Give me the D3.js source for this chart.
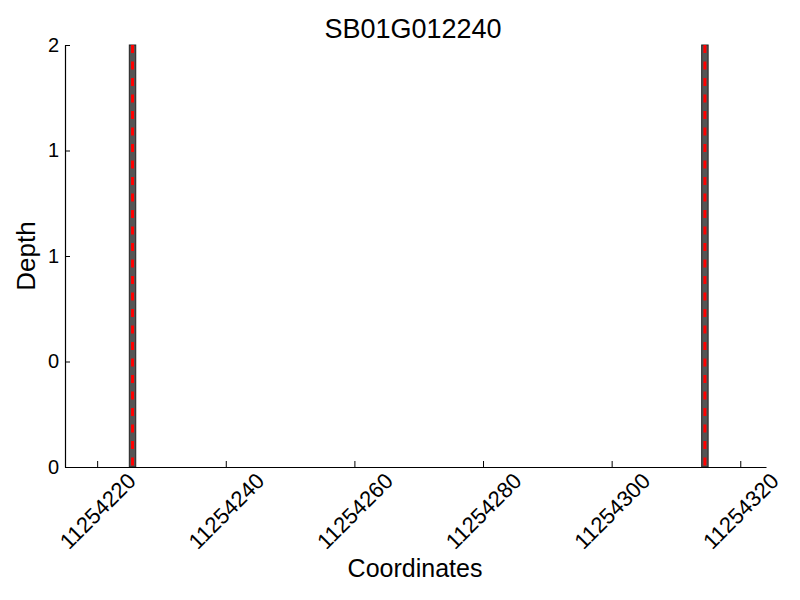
<!DOCTYPE html>
<html><head><meta charset="utf-8">
<script src="https://cdn.jsdelivr.net/npm/d3@7"></script>
<style>body{margin:0;background:#fff;} text{font-family:"Liberation Sans",Arial,sans-serif;fill:#000;}</style>
</head><body><svg id="c" width="800" height="600"></svg>
<script>
const title = "SB01G012240";
const xLabel = "Coordinates";
const yLabel = "Depth";
const barStarts = [11254225, 11254314];
const barEnds = [11254226, 11254315];
const depths = [2, 2];
const xTicks = [11254220, 11254240, 11254260, 11254280, 11254300, 11254320];
const yTicks = [0, 0.5, 1, 1.5, 2];
const yTickLabels = ["0", "0", "1", "1", "2"];
const xDomain = [11254215, 11254324];
const yDomain = [0, 2];

const svg = d3.select("#c");
const x = d3.scaleLinear().domain(xDomain).range([65, 766]);
const y = d3.scaleLinear().domain(yDomain).range([467, 45]);

const bars = barStarts.map((s, i) => ({s, e: barEnds[i], d: depths[i]}));
svg.selectAll("rect.bar").data(bars).enter().append("rect")
  .attr("x", d => x(d.s)).attr("width", d => x(d.e) - x(d.s))
  .attr("y", d => y(d.d)).attr("height", d => y(0) - y(d.d))
  .attr("fill", "#555555").attr("stroke", "#222").attr("stroke-width", 1);
svg.selectAll("line.mid").data(bars).enter().append("line")
  .attr("x1", d => x((d.s + d.e) / 2)).attr("x2", d => x((d.s + d.e) / 2))
  .attr("y1", d => y(d.d)).attr("y2", y(0))
  .attr("stroke", "#ff0000").attr("stroke-width", 3).attr("stroke-dasharray", "8,8.5");

const xa = svg.append("g").attr("transform", "translate(0,467)")
  .call(d3.axisBottom(x).tickValues(xTicks).tickSizeInner(-6).tickSizeOuter(0).tickFormat(d3.format("d")));
xa.select(".domain").attr("stroke", "#000").attr("stroke-width", 1.2);
xa.selectAll("text").attr("font-size", 22).attr("text-anchor", "middle")
  .attr("transform", "translate(0,44) rotate(-45)").attr("dy", "0.35em").attr("y", 0).attr("x", 0);

const ya = svg.append("g").attr("transform", "translate(65,0)")
  .call(d3.axisLeft(y).tickValues(yTicks).tickSizeInner(-5).tickSizeOuter(0).tickFormat((d, i) => yTickLabels[i]));
ya.select(".domain").attr("stroke", "#000").attr("stroke-width", 1.2);
ya.selectAll("text").attr("font-size", 20).attr("x", -6);

svg.append("text").attr("x", 413).attr("y", 38).attr("text-anchor", "middle").attr("font-size", 27).text(title);
svg.append("text").attr("x", 415).attr("y", 577).attr("text-anchor", "middle").attr("font-size", 25).text(xLabel);
svg.append("text").attr("transform", "translate(35,256) rotate(-90)").attr("text-anchor", "middle").attr("font-size", 26).text(yLabel);
</script></body></html>
